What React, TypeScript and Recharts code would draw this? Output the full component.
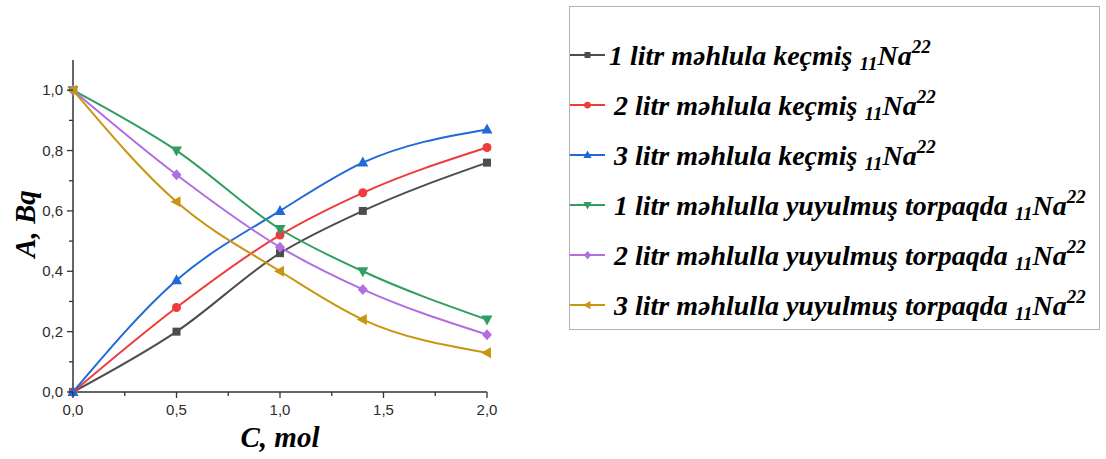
import React from 'react'
import { Legend, Line, LineChart, XAxis, YAxis } from 'recharts'

const concentration = [0, 0.5, 1.0, 1.4, 2.0]

const passed1 = [0, 0.2, 0.46, 0.6, 0.76]
const passed2 = [0, 0.28, 0.52, 0.66, 0.81]
const passed3 = [0, 0.37, 0.6, 0.76, 0.87]
const washed1 = [1, 0.8, 0.54, 0.4, 0.24]
const washed2 = [1, 0.72, 0.48, 0.34, 0.19]
const washed3 = [1, 0.63, 0.4, 0.24, 0.13]

const xTicks = [0, 0.25, 0.5, 0.75, 1.0, 1.25, 1.5, 1.75, 2.0]
const yTicks = [0, 0.1, 0.2, 0.3, 0.4, 0.5, 0.6, 0.7, 0.8, 0.9, 1.0]

const seriesList = [
  { key: 'p1', values: passed1, color: '#4d4d4d', shape: 'square', label: '1 litr məhlula keçmiş ' },
  { key: 'p2', values: passed2, color: '#f03b3b', shape: 'circle', label: '2 litr məhlula keçmiş ' },
  { key: 'p3', values: passed3, color: '#1f6ad8', shape: 'up', label: '3 litr məhlula keçmiş ' },
  { key: 'w1', values: washed1, color: '#2f9e5e', shape: 'down', label: '1 litr məhlulla yuyulmuş torpaqda ' },
  { key: 'w2', values: washed2, color: '#b06ee2', shape: 'diamond', label: '2 litr məhlulla yuyulmuş torpaqda ' },
  { key: 'w3', values: washed3, color: '#c99612', shape: 'left', label: '3 litr məhlulla yuyulmuş torpaqda ' },
]

const data = concentration.map((c, i) => {
  const row: Record<string, number> = { c }
  seriesList.forEach(s => { row[s.key] = s.values[i] })
  return row
})

const fmt = (v: number) => v.toFixed(1).replace('.', ',')
const axisColor = '#333'

function Marker({ cx, cy, shape, color, s = 1 }: any) {
  if (cx == null || cy == null) return null
  if (shape === 'square') return <rect x={cx - 4 * s} y={cy - 4 * s} width={8 * s} height={8 * s} fill={color} />
  if (shape === 'circle') return <circle cx={cx} cy={cy} r={4.5 * s} fill={color} />
  let pts: number[][] = []
  if (shape === 'up') pts = [[0, -6], [-5.5, 4], [5.5, 4]]
  if (shape === 'down') pts = [[0, 6], [-5.5, -4], [5.5, -4]]
  if (shape === 'diamond') pts = [[0, -5.5], [5, 0], [0, 5.5], [-5, 0]]
  if (shape === 'left') pts = [[-6, 0], [4, -5.5], [4, 5.5]]
  return <polygon points={pts.map(p => `${cx + p[0] * s},${cy + p[1] * s}`).join(' ')} fill={color} />
}

function XTick(props: any) {
  const { x, y, payload } = props
  const v = payload.value
  const major = Math.abs(v * 2 - Math.round(v * 2)) < 1e-6
  return (
    <g>
      <line x1={x} x2={x} y1={y} y2={y + (major ? 6 : 4)} stroke={axisColor} strokeWidth={1.3} />
      {major && (
        <text x={x} y={y + 23} textAnchor="middle" fontSize={15} fill="#2b2b2b" fontFamily="'Liberation Sans', Arial, sans-serif">
          {fmt(v)}
        </text>
      )}
    </g>
  )
}

function YTick(props: any) {
  const { x, y, payload } = props
  const v = payload.value
  const major = Math.abs(v * 5 - Math.round(v * 5)) < 1e-6
  return (
    <g>
      <line x1={x} x2={x - (major ? 6 : 4)} y1={y} y2={y} stroke={axisColor} strokeWidth={1.3} />
      {major && (
        <text x={x - 10} y={y + 5} textAnchor="end" fontSize={15} fill="#2b2b2b" fontFamily="'Liberation Sans', Arial, sans-serif">
          {fmt(v)}
        </text>
      )}
    </g>
  )
}

const serifFamily = "'Liberation Serif', 'Times New Roman', Times, 'DejaVu Serif', serif"
const titleFont = { fontFamily: serifFamily, fontWeight: 700, fontStyle: 'italic' as const }

function XTitle({ viewBox }: any) {
  return (
    <text x={viewBox.x + viewBox.width / 2} y={viewBox.y + 55} textAnchor="middle" fontSize={29} fill="#000" fontFamily={serifFamily} fontWeight={700} fontStyle="italic">
      C, mol
    </text>
  )
}

function YTitle({ viewBox }: any) {
  const cx = 25
  const cy = viewBox.y + viewBox.height / 2 - 2
  return (
    <text x={cx} y={cy} transform={`rotate(-90 ${cx} ${cy})`} textAnchor="middle" dominantBaseline="central" fontSize={29} fill="#000" fontFamily={serifFamily} fontWeight={700} fontStyle="italic">
      A, Bq
    </text>
  )
}

function LegendBox() {
  return (
    <div style={{ border: '1px solid #b4b4b4', boxSizing: 'border-box', width: 531, height: 324, paddingTop: 23, background: '#fff' }}>
      {seriesList.map((s, i) => (
        <div key={s.key} style={{ height: 50, display: 'flex', alignItems: 'center', ...titleFont, fontSize: 28, color: '#000' }}>
          <svg width={35} height={16} style={{ flex: 'none' }}>
            <line x1={0} x2={35} y1={8} y2={8} stroke={s.color} strokeWidth={2} />
            <Marker cx={17.5} cy={8} shape={s.shape} color={s.color} s={0.75} />
          </svg>
          <span style={{ paddingLeft: i === 0 ? 4 : 9, whiteSpace: 'nowrap', lineHeight: '30px' }}>
            {s.label}
            <sub style={{ fontSize: 19, verticalAlign: '-5px' }}>11</sub>Na
            <sup style={{ fontSize: 19, verticalAlign: '12px' }}>22</sup>
          </span>
        </div>
      ))}
    </div>
  )
}

export default function App() {
  return (
    <div style={{ position: 'absolute', left: 0, top: 0 }}>
      <LineChart width={1106} height={459} data={data} margin={{ top: 60, right: 619, left: 0, bottom: 0 }}>
        <XAxis
          dataKey="c"
          type="number"
          domain={[0, 2]}
          ticks={xTicks}
          interval={0}
          height={67}
          tickSize={0}
          tickMargin={0}
          tickLine={false}
          tick={<XTick />}
          axisLine={{ stroke: axisColor, strokeWidth: 1.5 }}
          label={<XTitle />}
        />
        <YAxis
          type="number"
          domain={[0, 1.1]}
          ticks={yTicks}
          interval={0}
          width={73}
          tickSize={0}
          tickMargin={0}
          tickLine={false}
          tick={<YTick />}
          axisLine={{ stroke: axisColor, strokeWidth: 1.5 }}
          label={<YTitle />}
        />
        <Legend
          content={<LegendBox />}
          wrapperStyle={{ position: 'absolute', left: 569, top: 6, width: 0, height: 0, overflow: 'visible' }}
        />
        {seriesList.map(s => (
          <Line
            key={s.key}
            dataKey={s.key}
            type="monotone"
            stroke={s.color}
            strokeWidth={2}
            isAnimationActive={false}
            activeDot={false}
            dot={(p: any) => <Marker key={`${s.key}-${p.index}`} cx={p.cx} cy={p.cy} shape={s.shape} color={s.color} />}
          />
        ))}
      </LineChart>
    </div>
  )
}
